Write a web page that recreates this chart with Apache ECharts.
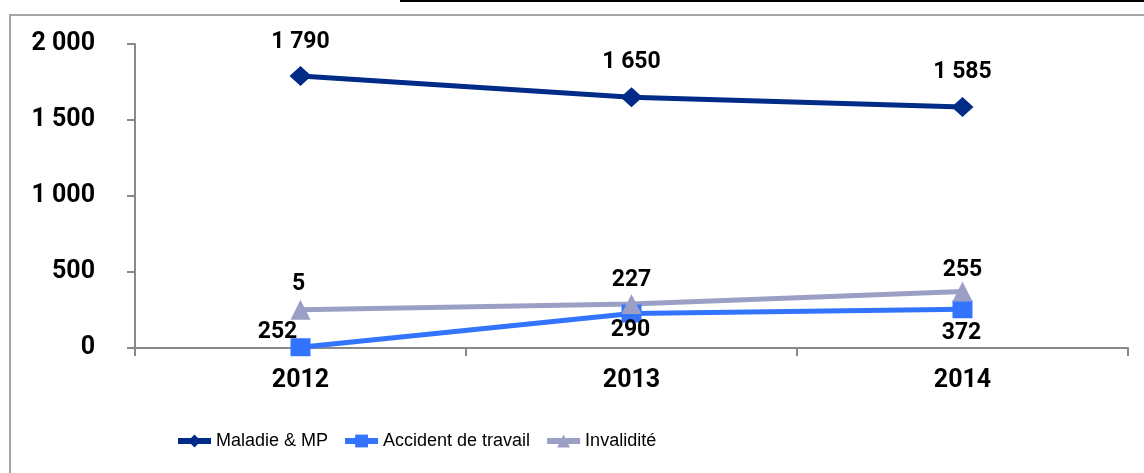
<!DOCTYPE html>
<html>
<head>
<meta charset="utf-8">
<style>
  html, body { margin: 0; padding: 0; background: #fff; }
  #chart { width: 1144px; height: 473px; }
</style>
<script src="https://cdn.jsdelivr.net/npm/echarts@6/dist/echarts.min.js"></script>
</head>
<body>
<div id="chart"></div>
<script>
// data
const years = ['2012', '2013', '2014'];
const maladie = [1790, 1650, 1585];
const accident = [5, 227, 255];
const invalidite = [252, 290, 372];
const yTicks = [0, 500, 1000, 1500, 2000];

// where each data label sits relative to its point (px)
const offMaladie = [[0, -34], [0, -35], [0, -35]];
const offAccident = [[-2, -63], [0, -33], [0, -39]];
const offInvalidite = [[-23, 23], [-1, 26], [-1, 42]];

const fmt = v => String(v).replace(/\B(?=(\d{3})+(?!\d))/g, ' ');

function withLabels(values, offsets) {
    return values.map((v, i) => ({
        value: v,
        label: { offset: offsets[i] }
    }));
}

const labelStyle = {
    show: true,
    position: 'inside',
    fontFamily: 'Roboto',
    fontWeight: 'bold',
    fontSize: 23,
    color: '#000',
    formatter: p => fmt(p.value)
};

const chart = echarts.init(document.getElementById('chart'));

chart.setOption({
    animation: false,
    backgroundColor: '#fff',
    graphic: [
        {
            type: 'rect',
            shape: { x: 10, y: 15, width: 1300, height: 700 },
            style: { fill: 'none', stroke: '#a6a6a6', lineWidth: 2 },
            silent: true
        },
        {
            type: 'line',
            shape: { x1: 400, y1: 1, x2: 1144, y2: 1 },
            style: { stroke: '#000', lineWidth: 2 },
            silent: true
        }
    ],
    grid: { left: 135, right: 16, top: 44, bottom: 125 },
    legend: {
        left: 170,
        top: 427,
        itemWidth: 33,
        itemHeight: 16,
        itemGap: 14,
        lineStyle: { width: 6 },
        textStyle: { fontFamily: 'Liberation Sans', fontSize: 18, color: '#000' },
        data: ['Maladie & MP', 'Accident de travail', 'Invalidité']
    },
    xAxis: {
        type: 'category',
        data: years,
        boundaryGap: true,
        axisLine: { lineStyle: { color: '#898989', width: 2 } },
        axisTick: { show: true, length: 8, alignWithLabel: false, lineStyle: { color: '#898989', width: 2 } },
        axisLabel: { margin: 20, fontFamily: 'Roboto', fontWeight: 'bold', fontSize: 25, color: '#000' },
        splitLine: { show: false }
    },
    yAxis: {
        type: 'value',
        min: yTicks[0],
        max: yTicks[yTicks.length - 1],
        interval: yTicks[1] - yTicks[0],
        axisLine: { show: true, lineStyle: { color: '#898989', width: 2 } },
        axisTick: { show: true, length: 8, lineStyle: { color: '#898989', width: 2 } },
        axisLabel: { margin: 40, fontFamily: 'Roboto', fontWeight: 'bold', fontSize: 25, color: '#000', formatter: fmt },
        splitLine: { show: false }
    },
    series: [
        {
            name: 'Maladie & MP',
            type: 'line',
            data: withLabels(maladie, offMaladie),
            symbol: 'diamond',
            symbolSize: [22, 20],
            lineStyle: { color: '#002b87', width: 5 },
            itemStyle: { color: '#002b87' },
            label: labelStyle
        },
        {
            name: 'Accident de travail',
            type: 'line',
            data: withLabels(accident, offAccident),
            symbol: 'rect',
            symbolSize: [20, 18],
            lineStyle: { color: '#3374ff', width: 5 },
            itemStyle: { color: '#3374ff' },
            label: labelStyle
        },
        {
            name: 'Invalidité',
            type: 'line',
            data: withLabels(invalidite, offInvalidite),
            symbol: 'triangle',
            symbolSize: [20, 20],
            lineStyle: { color: '#9c9fc5', width: 5 },
            itemStyle: { color: '#9c9fc5' },
            label: labelStyle
        }
    ]
});

window.addEventListener('resize', function() {
    chart.resize();
});
</script>
</body>
</html>
